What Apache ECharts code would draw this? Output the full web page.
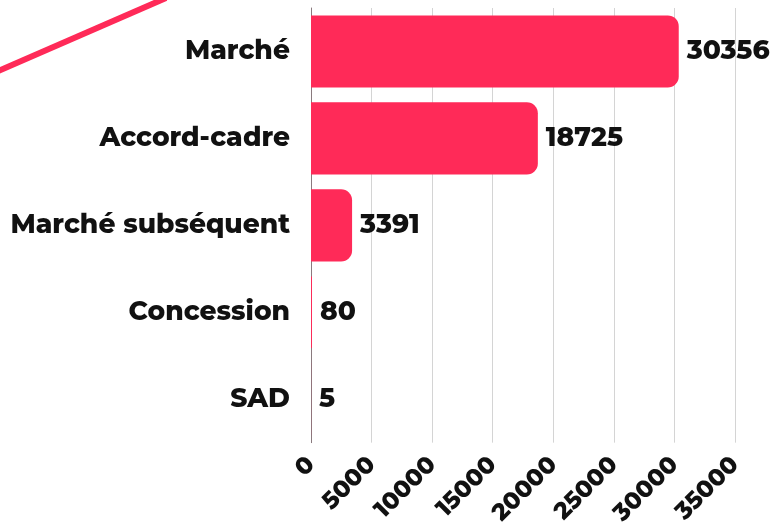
<!DOCTYPE html>
<html><head><meta charset="utf-8">
<script src="https://cdn.jsdelivr.net/npm/echarts@6/dist/echarts.min.js"></script>
<style>html,body{margin:0;padding:0;background:#fff}#c{width:771px;height:528px}</style>
</head><body><div id="c"></div>
<script>
const categories = ["Marché", "Accord-cadre", "Marché subséquent", "Concession", "SAD"];
const values = [30356, 18725, 3391, 80, 5];
const xTicks = [0, 5000, 10000, 15000, 20000, 25000, 30000, 35000];

const FONT = "Montserrat, 'DejaVu Sans', sans-serif";
const chart = echarts.init(document.getElementById('c'), null, {renderer: 'canvas'});
chart.setOption({
  animation: false,
  grid: {left: 311, right: 36, top: 8, bottom: 85},
  graphic: [{
    type: 'line', silent: true,
    shape: {x1: -4, y1: 72, x2: 166, y2: -2},
    style: {stroke: '#ff2a58', lineWidth: 6}
  }],
  xAxis: {
    type: 'value', min: xTicks[0], max: xTicks[xTicks.length - 1], interval: 5000,
    axisLine: {show: false}, axisTick: {show: false},
    splitLine: {show: true, lineStyle: {color: '#d4d4d4', width: 1}},
    axisLabel: {rotate: 45, margin: 18, color: '#111', fontFamily: FONT, fontWeight: 800, fontSize: 24,
      formatter: v => String(v)}
  },
  yAxis: {
    type: 'category', data: categories, inverse: true,
    axisLine: {show: true, lineStyle: {color: '#8a7a7e', width: 1}},
    axisTick: {show: false},
    axisLabel: {margin: 21, color: '#111', fontFamily: FONT, fontWeight: 800, fontSize: 26.5}
  },
  series: [{
    type: 'bar', data: values, barCategoryGap: '17%',
    itemStyle: {color: '#ff2a58', borderRadius: [0, 11, 11, 0]},
    label: {show: true, position: 'right', distance: 8, color: '#111',
      fontFamily: FONT, fontWeight: 800, fontSize: 26.5}
  }]
});
</script></body></html>
